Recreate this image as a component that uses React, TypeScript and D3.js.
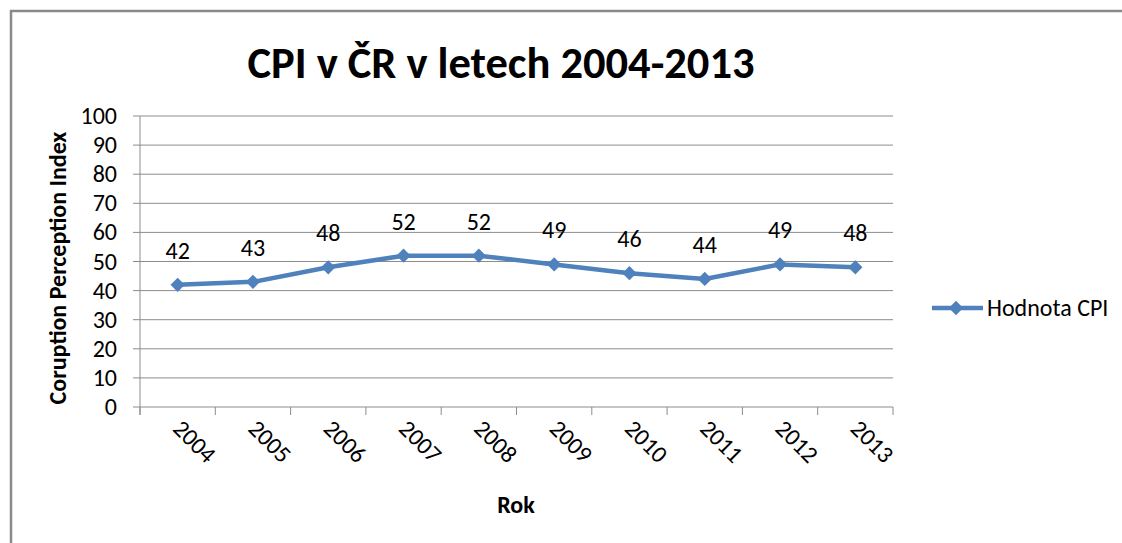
import React from 'react';
import * as d3 from 'd3';

const years = ['2004', '2005', '2006', '2007', '2008', '2009', '2010', '2011', '2012', '2013'];
const cpiValues = [42, 43, 48, 52, 52, 49, 46, 44, 49, 48];
const yTicks = [0, 10, 20, 30, 40, 50, 60, 70, 80, 90, 100];

const title = 'CPI v ČR v letech 2004-2013';
const yTitle = 'Coruption Perception Index';
const xTitle = 'Rok';
const seriesName = 'Hodnota CPI';

const W = 1122;
const H = 543;
const FONT = 'Carlito, Lato, "Open Sans", sans-serif';
const BLUE = '#4F81BD';
const GRID = '#8c8c8c';
const FS = 24;

const App = () => {
  const plot = { left: 140, right: 893, top: 116, bottom: 407 };

  const xScale = d3.scaleBand()
    .domain(years)
    .range([plot.left, plot.right]);

  const yScale = d3.scaleLinear()
    .domain([0, 100])
    .range([plot.bottom, plot.top]);

  const cx = (y: string) => (xScale(y) ?? 0) + xScale.bandwidth() / 2;

  const line = d3.line<number>()
    .x((d, i) => cx(years[i]))
    .y(d => yScale(d));

  const diamond = d3.symbol().type(d3.symbolDiamond2).size(130)();

  const tickEdges = [...years.map(y => xScale(y) ?? 0), plot.right];

  return (
    <svg width={W} height={H} style={{ position: 'absolute', left: 0, top: 0 }} fontFamily={FONT}>
      <rect x={0} y={0} width={W} height={H} fill="#fff" />
      {/* outer chart border */}
      <path d={`M11,${H} V11 H${W}`} fill="none" stroke="#8a8a8a" strokeWidth={2.5} />

      <text x={501} y={78} textAnchor="middle" fontSize={45} fontWeight="bold"
        textLength={507} lengthAdjust="spacingAndGlyphs">{title}</text>

      {/* gridlines + y ticks */}
      {yTicks.map(t => (
        <g key={t}>
          <line x1={plot.left - 7} x2={plot.right} y1={yScale(t)} y2={yScale(t)} stroke={GRID} strokeWidth={1} />
          <text x={117} y={yScale(t) + 8} textAnchor="end" fontSize={FS}>{t}</text>
        </g>
      ))}
      <line x1={plot.left} x2={plot.left} y1={plot.top} y2={plot.bottom + 8} stroke={GRID} />
      {tickEdges.map((x, i) => (
        <line key={i} x1={x} x2={x} y1={plot.bottom} y2={plot.bottom + 8} stroke={GRID} />
      ))}

      {years.map(y => (
        <text key={y} transform={`translate(${cx(y) - 6},${430}) rotate(45)`} fontSize={FS}>{y}</text>
      ))}

      <text transform={`translate(66,268) rotate(-90)`}
        textAnchor="middle" fontSize={FS} fontWeight="bold">{yTitle}</text>
      <text x={516} y={513} textAnchor="middle" fontSize={FS} fontWeight="bold">{xTitle}</text>

      <path d={line(cpiValues) ?? ''} fill="none" stroke={BLUE} strokeWidth={4.5} strokeLinejoin="round" />
      {cpiValues.map((v, i) => (
        <g key={i}>
          <path d={diamond ?? ''} transform={`translate(${cx(years[i])},${yScale(v)})`} fill={BLUE} />
          <text x={cx(years[i])} y={yScale(v) - 26} textAnchor="middle" fontSize={FS}>{v}</text>
        </g>
      ))}

      {/* legend */}
      <line x1={932} x2={983} y1={308} y2={308} stroke={BLUE} strokeWidth={4.5} />
      <path d={diamond ?? ''} transform="translate(956,308)" fill={BLUE} />
      <text x={987} y={316} fontSize={FS}>{seriesName}</text>
    </svg>
  );
};

export default App;
